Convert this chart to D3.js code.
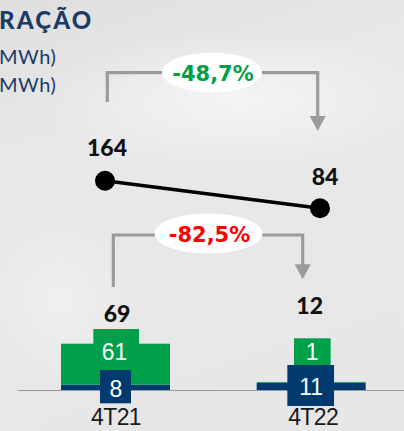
<!DOCTYPE html>
<html><head><meta charset="utf-8">
<script src="https://cdn.jsdelivr.net/npm/d3@7"></script>
<style>html,body{margin:0;padding:0;background:#e6e6e6;overflow:hidden}svg{display:block}</style>
</head><body>
<svg id="c" width="404" height="431"></svg>
<script>
// ---- data ----
const categories = ["4T21", "4T22"];
const navyValues = [8, 11];
const greenValues = [61, 1];
const barTotals = [69, 12];
const lineValues = [164, 84];
const changeLabels = ["-48,7%", "-82,5%"];
const headerLines = ["RAÇÃO", "MWh)", "MWh)"];

// ---- styles ----
const GREEN = "#00a04b", NAVY = "#003a6e", ARROW = "#9b9b9b";
const svg = d3.select("#c");

// background
const defs = svg.append("defs");
const g1 = defs.append("linearGradient").attr("id", "bg").attr("x1", 0).attr("y1", 0).attr("x2", 0.3).attr("y2", 1);
g1.append("stop").attr("offset", "0%").attr("stop-color", "#dfdfdf");
g1.append("stop").attr("offset", "35%").attr("stop-color", "#e8e8e8");
g1.append("stop").attr("offset", "100%").attr("stop-color", "#e7e7e7");
svg.append("rect").attr("width", 404).attr("height", 431).attr("fill", "url(#bg)");
const rg = defs.append("radialGradient").attr("id", "glow");
rg.append("stop").attr("offset", "0%").attr("stop-color", "#f6f6f6").attr("stop-opacity", 0.9);
rg.append("stop").attr("offset", "100%").attr("stop-color", "#f6f6f6").attr("stop-opacity", 0);
svg.append("ellipse").attr("cx", 240).attr("cy", 100).attr("rx", 200).attr("ry", 70).attr("fill", "url(#glow)");
svg.append("ellipse").attr("cx", 60).attr("cy", 300).attr("rx", 80).attr("ry", 90).attr("fill", "url(#glow)").attr("opacity", 0.6);

// header (cut-off title and legend)
const hdr = svg.append("g").attr("font-family", "Lato, 'Noto Sans', sans-serif").attr("fill", "#1b3a68");
hdr.append("text").attr("x", -1).attr("y", 29).attr("font-size", 24).attr("font-weight", 900).attr("letter-spacing", 2.2).text(headerLines[0]);
hdr.append("text").attr("x", -1).attr("y", 64).attr("font-size", 20).attr("font-weight", 400).attr("letter-spacing", 0.5).text(headerLines[1]);
hdr.append("text").attr("x", -1).attr("y", 92).attr("font-size", 20).attr("font-weight", 400).attr("letter-spacing", 0.5).text(headerLines[2]);

// ---- scales ----
const xBand = d3.scaleBand().domain(categories).range([61, 365.7]).paddingInner(0.443).paddingOuter(0);
const yBar = d3.scaleLinear().domain([0, 69]).range([390, 343.7]);
const xLine = d3.scalePoint().domain(categories).range([105, 320]);
const yLine = d3.scaleLinear().domain([84, 164]).range([208.3, 180.7]);

// axis baseline
svg.append("line").attr("x1", 18).attr("x2", 404).attr("y1", yBar(0) + 0.5).attr("y2", yBar(0) + 0.5)
  .attr("stroke", "#9a9a9a").attr("stroke-width", 1.2);

// stacked bars
categories.forEach((c, i) => {
  svg.append("rect").attr("x", xBand(c)).attr("width", xBand.bandwidth())
    .attr("y", yBar(navyValues[i])).attr("height", yBar(0) - yBar(navyValues[i])).attr("fill", NAVY);
  svg.append("rect").attr("x", xBand(c)).attr("width", xBand.bandwidth())
    .attr("y", yBar(navyValues[i] + greenValues[i])).attr("height", yBar(navyValues[i]) - yBar(navyValues[i] + greenValues[i])).attr("fill", GREEN);
});

// value label boxes (layout)
const boxLayout = [
  {green: {dx: 0.7, w: 45.7, y: 329, h: 41, ty: 360, tdx: -1}, navy: {dx: 0, w: 31, y: 370, h: 33.3, ty: 396.7, tdx: 0.3}},
  {green: {dx: 1.1, w: 36.7, y: 338.3, h: 26.7, ty: 360, tdx: 1}, navy: {dx: -0.5, w: 46.7, y: 365, h: 41, ty: 395, tdx: 0}}
];
const boxFont = "'Liberation Sans', Arial, sans-serif";
categories.forEach((c, i) => {
  const cx = xBand(c) + xBand.bandwidth() / 2;
  const L = boxLayout[i];
  svg.append("rect").attr("x", cx + L.green.dx - L.green.w / 2).attr("y", L.green.y).attr("width", L.green.w).attr("height", L.green.h).attr("fill", GREEN);
  svg.append("text").attr("x", cx + L.green.tdx).attr("y", L.green.ty).attr("text-anchor", "middle")
    .attr("font-family", boxFont).attr("font-size", 23).attr("fill", "#fff").text(greenValues[i]);
  svg.append("rect").attr("x", cx + L.navy.dx - L.navy.w / 2).attr("y", L.navy.y).attr("width", L.navy.w).attr("height", L.navy.h).attr("fill", NAVY);
  svg.append("text").attr("x", cx + L.navy.tdx).attr("y", L.navy.ty).attr("text-anchor", "middle")
    .attr("font-family", boxFont).attr("font-size", 23).attr("fill", "#fff").text(navyValues[i]);
});

// totals
const totalPos = [{dx: 1.5, y: 322}, {dx: -1.5, y: 314}];
categories.forEach((c, i) => {
  svg.append("text").attr("x", xBand(c) + xBand.bandwidth() / 2 + totalPos[i].dx).attr("y", totalPos[i].y)
    .attr("text-anchor", "middle").attr("font-family", "Lato, sans-serif").attr("font-weight", 900)
    .attr("font-size", 23).attr("fill", "#111").text(barTotals[i]);
});

// category labels
categories.forEach((c, i) => {
  svg.append("text").attr("x", xBand(c) + xBand.bandwidth() / 2 + (i === 0 ? 0.5 : 2)).attr("y", 425)
    .attr("text-anchor", "middle").attr("font-family", boxFont).attr("font-size", 23)
    .attr("letter-spacing", -0.6).attr("fill", "#1a1a1a").text(c);
});

// line series
const lineGen = d3.line().x((d, i) => xLine(categories[i])).y(d => yLine(d));
svg.append("path").datum(lineValues).attr("d", lineGen).attr("fill", "none").attr("stroke", "#000").attr("stroke-width", 3.5);
svg.selectAll(".pt").data(lineValues).join("circle").attr("class", "pt")
  .attr("cx", (d, i) => xLine(categories[i])).attr("cy", d => yLine(d)).attr("r", 10).attr("fill", "#000");
const lineLblPos = [{dx: 2, dy: -25}, {dx: 5, dy: -23}];
lineValues.forEach((v, i) => {
  svg.append("text").attr("x", xLine(categories[i]) + lineLblPos[i].dx).attr("y", yLine(v) + lineLblPos[i].dy)
    .attr("text-anchor", "middle").attr("font-family", "Lato, sans-serif").attr("font-weight", 900)
    .attr("font-size", 23).attr("fill", "#111").text(v);
});

// change brackets
function bracket(x1, yStart, yTop, x2, tipY, label, color, ecx, ecy, erx, ery, ty) {
  const g = svg.append("g");
  g.append("path").attr("d", `M${x1},${yStart}V${yTop}H${x2}V${tipY - 14}`)
    .attr("fill", "none").attr("stroke", ARROW).attr("stroke-width", 3.2);
  g.append("path").attr("d", `M${x2 - 8},${tipY - 15}L${x2 + 8},${tipY - 15}L${x2},${tipY}Z`).attr("fill", ARROW);
  g.append("ellipse").attr("cx", ecx).attr("cy", ecy).attr("rx", erx).attr("ry", ery).attr("fill", "#fff");
  g.append("text").attr("x", ecx + 1).attr("y", ty).attr("text-anchor", "middle")
    .attr("font-family", "'DejaVu Sans', sans-serif").attr("font-weight", 700).attr("font-size", 21)
    .attr("fill", color).text(label);
}
bracket(xLine(categories[0]) + 2.3, 102, 72.7, xLine(categories[1]) - 2.3, 131, changeLabels[0], GREEN, 212, 72.5, 50, 20, 81);
bracket(xBand(categories[0]) + xBand.bandwidth() / 2 - 2.2, 287, 235, xBand(categories[1]) + xBand.bandwidth() / 2 - 8.5, 279.3, changeLabels[1], "#ff0000", 208.5, 233.5, 54, 20, 241.5);
</script>
</body></html>
